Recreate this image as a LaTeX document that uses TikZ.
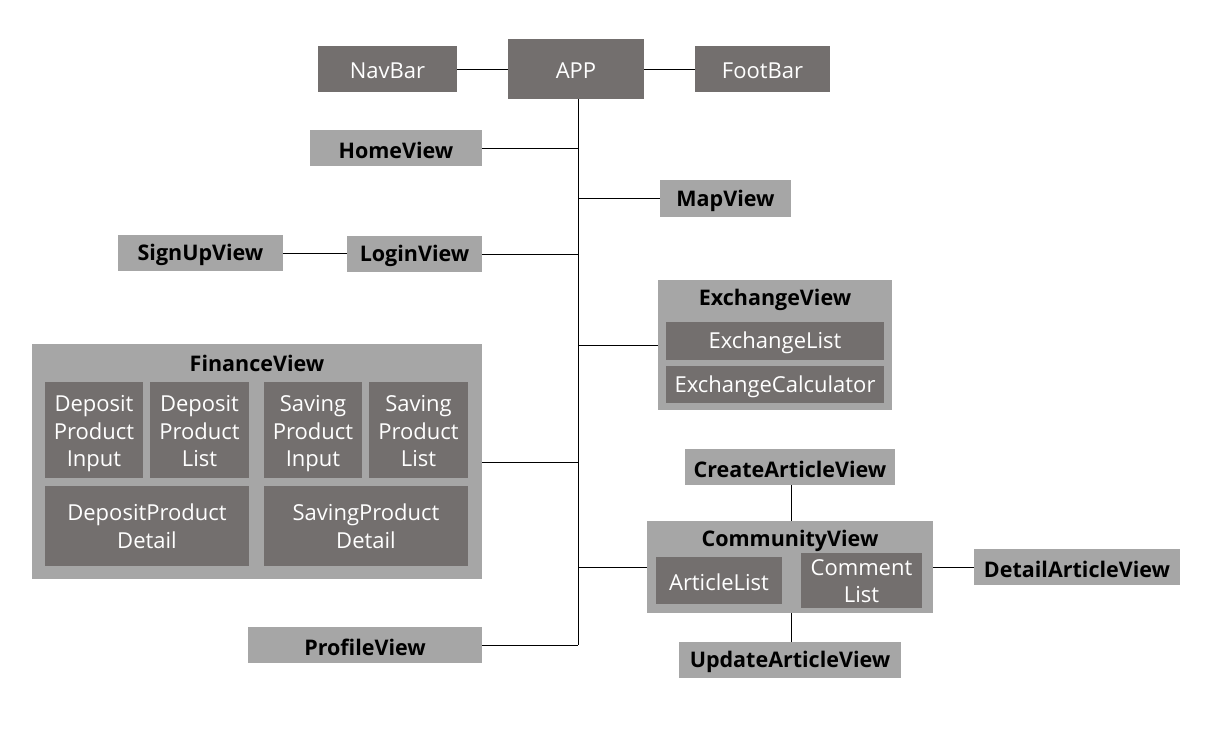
\documentclass[tikz,border=0pt]{standalone}
\usepackage{fontspec}
\setmainfont{Open Sans}
\definecolor{dk}{HTML}{736F6E}
\definecolor{lt}{HTML}{A6A6A6}
\newcommand{\ml}[2][1.5pt]{\raisebox{-#1}[\height][\depth]{\begin{tabular}{@{}c@{}}#2\end{tabular}}}
\begin{document}
\begin{tikzpicture}[x=1pt,y=-1pt,
  dkbox/.style={fill=dk,draw=none,inner sep=0pt,text=white,align=center,
    font=\fontsize{22}{27.5}\selectfont},
  ltbox/.style={fill=lt,draw=none,inner sep=0pt,text=black,align=center,
    font=\fontsize{21.5}{27.5}\selectfont\bfseries},
  ttl/.style={inner sep=0pt,text=black,font=\fontsize{21.5}{27.5}\selectfont\bfseries},
  conn/.style={draw=black,line width=1pt}]
\useasboundingbox (0,0) rectangle (1206,728);
% helper: box by corners, text lowered 2pt
\newcommand{\bx}[7]{\node[#1,minimum width={#4-#2},minimum height={#5-#3}] (#6) at ({(#2+#4)/2},{(#3+#5)/2}) {\raisebox{-2pt}[\height][\depth]{#7}};}
% top row
\bx{dkbox}{318}{46}{457}{92}{nav}{NavBar}
\bx{dkbox}{508}{39}{644}{99}{app}{APP}
\bx{dkbox}{695}{46}{830}{92}{foot}{FootBar}
% simple views
\bx{ltbox}{310}{130}{482}{166}{home}{HomeView}
\bx{ltbox}{660}{180}{791}{217}{map}{MapView}
\bx{ltbox}{347}{236}{482}{272}{login}{LoginView}
\bx{ltbox}{118}{235}{283}{271}{signup}{SignUpView}
\bx{ltbox}{248}{627}{482}{663}{profile}{ProfileView}
% exchange
\bx{ltbox}{658}{280}{892}{410}{exch}{}
\node[ttl] (exchT) at (775,300) {ExchangeView};
\bx{dkbox}{666}{322}{884}{360}{exlist}{ExchangeList}
\bx{dkbox}{666}{366}{884}{403}{excalc}{ExchangeCalculator}
% finance
\bx{ltbox}{32}{344}{482}{579}{fin}{}
\node[ttl] (finT) at (257,363.5) {FinanceView};
\bx{dkbox}{45}{382}{143}{478}{dpi}{\ml{Deposit\\Product\\Input}}
\bx{dkbox}{150}{382}{249}{478}{dpl}{\ml{Deposit\\Product\\List}}
\bx{dkbox}{264}{382}{362}{478}{spi}{\ml{Saving\\Product\\Input}}
\bx{dkbox}{369}{382}{468}{478}{spl}{\ml{Saving\\Product\\List}}
\bx{dkbox}{45}{486}{249}{566}{dpd}{\ml[1pt]{DepositProduct\\Detail}}
\bx{dkbox}{264}{486}{468}{566}{spd}{\ml[1pt]{SavingProduct\\Detail}}
% community
\bx{ltbox}{647}{521}{933}{613}{comm}{}
\node[ttl] (commT) at (790,541) {CommunityView};
\bx{dkbox}{656}{557}{782}{604}{alist}{ArticleList}
\bx{dkbox}{801}{557}{922}{604}{clist}{\ml[1pt]{Comment\\List}}
\bx{ltbox}{685}{449}{895}{485}{create}{CreateArticleView}
\bx{ltbox}{679}{642}{901}{678}{update}{UpdateArticleView}
\bx{ltbox}{974}{549}{1180}{585}{detail}{DetailArticleView}
% connectors
\coordinate (tend) at (578,645);
\draw[conn] (nav.east) -- (nav.east -| app.west);
\draw[conn] (app.east) -- (app.east -| foot.west);
\draw[conn] (app.south -| tend) -- (tend);
\draw[conn] (home.east) -- (home.east -| tend);
\draw[conn] (map.west) -- (map.west -| tend);
\draw[conn] (login.east) -- (login.east -| tend);
\draw[conn] (signup.east) -- (signup.east -| login.west);
\draw[conn] (exch.west |- 0,345) -- (578,345);
\draw[conn] (fin.east |- 0,462) -- (578,462);
\draw[conn] (comm.west |- 0,567) -- (578,567);
\draw[conn] (profile.east) -- (profile.east -| tend);
\draw[conn] (create.south -| 791,0) -- (comm.north -| 791,0);
\draw[conn] (update.north -| 791,0) -- (comm.south -| 791,0);
\draw[conn] (detail.west) -- (detail.west -| comm.east);
\end{tikzpicture}
\end{document}
